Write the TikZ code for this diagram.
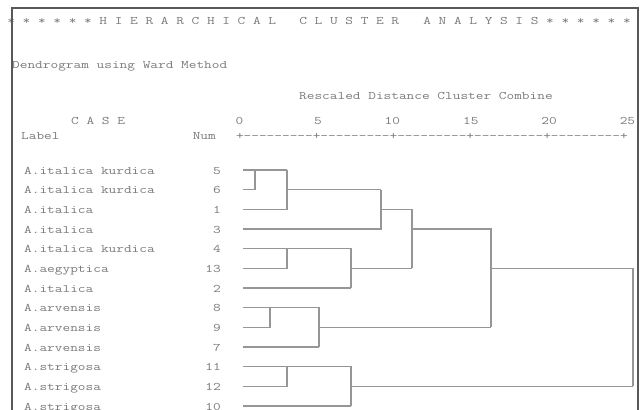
\documentclass[tikz,border=0pt]{standalone}
\usepackage{fontspec}
\setmonofont[FakeStretch=1.297]{Latin Modern Mono}
\definecolor{txtgray}{HTML}{7A7A7A}
\definecolor{treegray}{HTML}{969696}
\definecolor{framegray}{HTML}{585858}
\begin{document}
\begin{tikzpicture}[x=1pt,y=-1pt,
    txt/.style={inner sep=0pt, anchor=base west, text=txtgray,
        font=\ttfamily\fontsize{11.5}{13}\selectfont},
    num/.style={txt, anchor=base east},
    branch/.style={treegray, line width=1.2pt}]

    \useasboundingbox (0,0) rectangle (641,410);

    % title line
    \node[txt] (title1) at (7.1,24) {* * * * * * H I E R A R C H I C A L};
    \node[txt] (title2) at (299.1,24) {C L U S T E R};
    \node[txt] (title3) at (423.1,24) {A N A L Y S I S * * * * * *};

    % headings
    \node[txt] (method) at (12,68) {Dendrogram using Ward Method};
    \node[txt] (rescaled) at (299,99) {Rescaled Distance Cluster Combine};
    \node[txt] (case) at (71,124) {C A S E};
    \node[txt] (label) at (21,139) {Label};
    \node[num] (numhead) at (216,139) {Num};

    % distance axis
    \node[txt] (axis) at (235.8,139) {+---------+---------+---------+---------+---------+};
    \foreach \d [count=\i from 0] in {0,5,...,25}
        \node[num] (tick\i) at (243.6+78.35*\i,124) {\d};

    % cases
    \foreach \n/\name [count=\k from 0] in {5/A.italica kurdica, 6/A.italica kurdica,
        1/A.italica, 3/A.italica, 4/A.italica kurdica, 13/A.aegyptica, 2/A.italica,
        8/A.arvensis, 9/A.arvensis, 7/A.arvensis, 11/A.strigosa, 12/A.strigosa, 10/A.strigosa} {
        \node[txt] (lab\n) at (24,174+19.67*\k) {\name};
        \node[num] (num\n) at (221,174+19.67*\k) {\n};
        \coordinate (r\n) at (243,170+19.67*\k);
    }

    % merge columns
    \coordinate (c56) at (255,0);
    \coordinate (c561) at (287,0);
    \coordinate (c5613) at (381,0);
    \coordinate (c413) at (287,0);
    \coordinate (c4132) at (351,0);
    \coordinate (cital) at (412,0);
    \coordinate (c89) at (270,0);
    \coordinate (c897) at (319,0);
    \coordinate (cmain) at (491,0);
    \coordinate (c1112) at (287,0);
    \coordinate (c1110) at (351,0);
    \coordinate (call) at (633,0);

    % italica group
    \draw[branch] (r6) -| (r5 -| c56);
    \draw[branch] (r5) -- (r5 -| c561);
    \draw[branch] (r1) -| (r5 -| c561);
    \draw[branch] (r6 -| c561) -- (r6 -| c5613);
    \draw[branch] (r3) -| (r6 -| c5613);
    \draw[branch] (r1 -| c5613) -| (r13 -| cital);
    \draw[branch] (r13) -| (r4 -| c413);
    \draw[branch] (r4) -| (r2 -| c4132);
    \draw[branch] (r2) -- (r2 -| c4132);
    \draw[branch] (r13 -| c4132) -- (r13 -| cital);
    \draw[branch] (r3 -| cital) -| (r9 -| cmain);

    % arvensis group
    \draw[branch] (r9) -| (r8 -| c89);
    \draw[branch] (r8) -| (r7 -| c897);
    \draw[branch] (r7) -- (r7 -| c897);
    \draw[branch] (r9 -| c897) -- (r9 -| cmain);

    % strigosa group
    \draw[branch] (r12) -| (r11 -| c1112);
    \draw[branch] (r11) -| (r10 -| c1110);
    \draw[branch] (r10) -- (r10 -| c1110);
    \draw[branch] (r12 -| c1110) -- (r12 -| call);
    \draw[branch] (r13 -| cmain) -| (r12 -| call);

    % frame
    \draw[framegray, line width=2pt] (12,410) -- (12,8) -- (638,8) -- (638,410);

\end{tikzpicture}
\end{document}
